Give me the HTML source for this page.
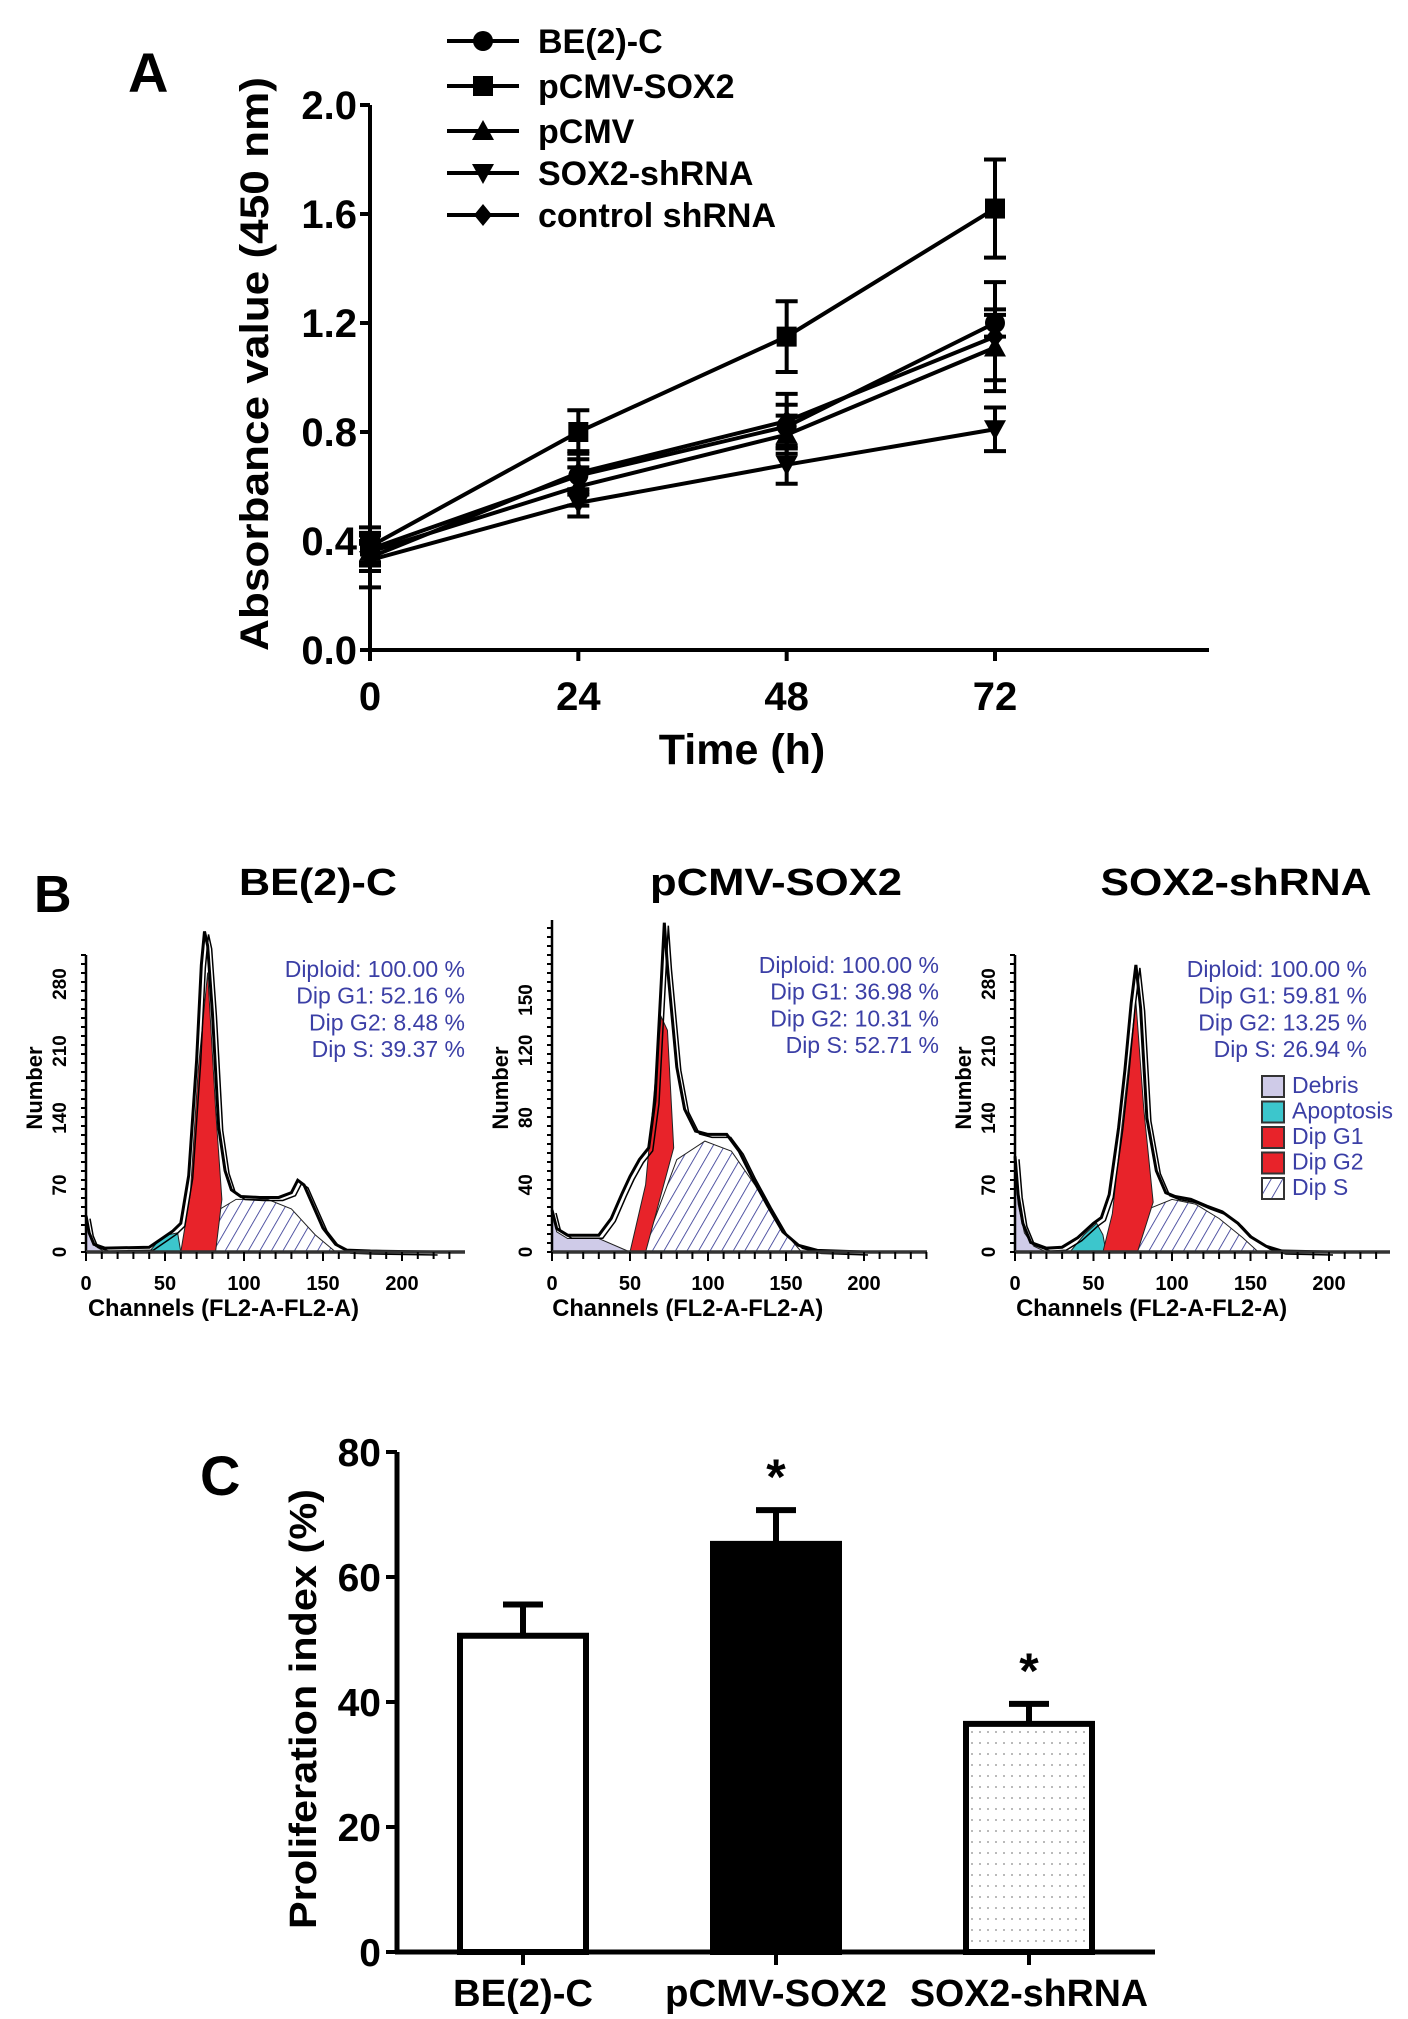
<!DOCTYPE html>
<html><head><meta charset="utf-8"><style>
html,body{margin:0;padding:0;background:#fff}
svg{display:block}
text{font-family:"Liberation Sans",sans-serif;font-weight:bold}
.narrow{font-family:"Liberation Sans Narrow","Liberation Sans",sans-serif}
.stat{font-family:"Liberation Sans Narrow","Liberation Sans",sans-serif;font-weight:normal;fill:#3b3fa6;font-size:23px}
</style></head><body>
<svg id="fig" width="1408" height="2019" viewBox="0 0 1408 2019" xmlns="http://www.w3.org/2000/svg">
<defs>
<pattern id="hatch" patternUnits="userSpaceOnUse" width="10" height="10" patternTransform="rotate(30)"><rect width="10" height="10" fill="#fff"/><line x1="0" y1="0" x2="0" y2="10" stroke="#2b2f8f" stroke-width="1.6"/></pattern>
<pattern id="dots" patternUnits="userSpaceOnUse" width="8" height="11"><rect width="8" height="11" fill="#fff"/><circle cx="4" cy="5" r="0.9" fill="#888"/></pattern>
</defs>
<text x="128" y="92" font-size="56">A</text>
<text x="34" y="912" font-size="52">B</text>
<text x="200" y="1495" font-size="56">C</text>
<g id="gA"></g><g id="gB"></g><g id="gC"></g>
</svg>
<script>
// ---------- Panel A data ----------
const aTimes=[0,24,48,72];
const aYTicks=[0,0.4,0.8,1.2,1.6,2.0];
const aSeriesNames=["BE(2)-C","pCMV-SOX2","pCMV","SOX2-shRNA","control shRNA"];
const aBE=[0.37,0.64,0.82,1.20];
const aBEerr=[0.05,0.06,0.08,0.05];
const aSOX=[0.38,0.80,1.15,1.62];
const aSOXerr=[0.07,0.08,0.13,0.18];
const aPCMV=[0.36,0.60,0.79,1.11];
const aPCMVerr=[0.04,0.07,0.07,0.12];
const aSH=[0.33,0.54,0.68,0.81];
const aSHerr=[0.10,0.05,0.07,0.08];
const aCTRL=[0.34,0.65,0.84,1.15];
const aCTRLerr=[0.05,0.08,0.10,0.20];
// ---------- Panel B data (channel, count) ----------
const bTitles=["BE(2)-C","pCMV-SOX2","SOX2-shRNA"];
const bXTicks=[0,50,100,150,200];
const b1YTicks=[0,70,140,210,280];
const b2YTicks=[0,40,80,120,150];
const b3YTicks=[0,70,140,210,280];
const b1Outline=[[0,38],[2,20],[5,8],[12,4],[40,5],[48,14],[55,22],[60,30],[65,80],[70,200],[73,300],[75,335],[77,320],[80,250],[84,130],[88,85],[92,65],[98,58],[110,57],[122,57],[130,62],[134,75],[138,70],[142,55],[150,25],[158,8],[165,2],[180,1],[220,0]];
const b1Debris=[[0,38],[2,20],[6,6],[12,0],[0,0]];
const b1Apop=[[40,0],[46,12],[52,18],[58,20],[60,0]];
const b1G1=[[60,0],[66,60],[71,190],[77,292],[82,150],[86,55],[82,0]];
const b1S=[[62,0],[80,40],[95,55],[115,55],[130,45],[145,18],[158,0]];
const b1Stats=["Diploid: 100.00 %","Dip G1: 52.16 %","Dip G2: 8.48 %","Dip S: 39.37 %"];
const b2Outline=[[0,25],[3,14],[10,10],[30,10],[38,20],[45,35],[50,45],[56,55],[62,62],[66,90],[70,160],[72,196],[74,170],[77,140],[80,110],[85,85],[92,72],[100,70],[112,70],[120,60],[128,45],[138,28],[148,12],[158,4],[170,1],[200,0]];
const b2Debris=[[0,25],[3,12],[10,8],[30,8],[50,0],[0,0]];
const b2G1=[[50,0],[60,40],[66,100],[70,140],[74,132],[78,62],[60,0]];
const b2S=[[58,0],[80,55],[98,66],[115,60],[130,40],[145,16],[160,0]];
const b2Stats=["Diploid: 100.00 %","Dip G1: 36.98 %","Dip G2: 10.31 %","Dip S: 52.71 %"];
const b3Outline=[[0,100],[2,60],[5,30],[10,10],[20,4],[30,5],[40,15],[50,30],[55,36],[60,60],[66,130],[70,190],[74,260],[77,300],[80,255],[84,140],[90,85],[96,62],[102,58],[112,55],[122,48],[132,42],[142,30],[150,16],[160,6],[170,1],[200,0]];
const b3Debris=[[0,90],[2,50],[6,20],[12,6],[20,0],[0,0]];
const b3Apop=[[35,0],[44,18],[52,30],[56,18],[58,0]];
const b3G1=[[56,0],[62,40],[70,160],[77,262],[82,150],[88,52],[78,0]];
const b3S=[[62,0],[85,45],[100,55],[115,50],[130,35],[145,15],[155,0]];
const b3Stats=["Diploid: 100.00 %","Dip G1: 59.81 %","Dip G2: 13.25 %","Dip S: 26.94 %"];
const bLegend=["Debris","Apoptosis","Dip G1","Dip G2","Dip S"];
// ---------- Panel C data ----------
const cCats=["BE(2)-C","pCMV-SOX2","SOX2-shRNA"];
const cVals=[50.6,65.3,36.5];
const cErr=[5.0,5.4,3.2];
const cSig=[false,true,true];
const cYTicks=[0,20,40,60,80];

const NS="http://www.w3.org/2000/svg";
function mk(parent,tag,attrs,txt){const e=document.createElementNS(NS,tag);for(const k in attrs)e.setAttribute(k,attrs[k]);if(txt!==undefined)e.textContent=txt;parent.appendChild(e);return e;}

// ===== Panel A =====
const gA=document.getElementById('gA');
const ax=t=>370+t*(995-370)/72;
const ay=v=>650-v*(650-105)/2.0;
let e;
e=mk(gA,'line',{x1:370,y1:ay(2.0),x2:370,y2:650,stroke:'#000','stroke-width':4});

e=mk(gA,'line',{x1:368,y1:650,x2:1209,y2:650,stroke:'#000','stroke-width':4});

aYTicks.forEach(v=>{
  e=mk(gA,'line',{x1:360,y1:ay(v),x2:370,y2:ay(v),stroke:'#000','stroke-width':4});
  
  e=mk(gA,'text',{x:357,y:ay(v)+14,'font-size':40,'text-anchor':'end',class:'narrow'},v.toFixed(1));
  
});
aTimes.forEach(t=>{
  e=mk(gA,'line',{x1:ax(t),y1:650,x2:ax(t),y2:661,stroke:'#000','stroke-width':4});
  
  e=mk(gA,'text',{x:ax(t),y:710,'font-size':40,'text-anchor':'middle',class:'narrow'},String(t));
  
});
e=mk(gA,'text',{x:742,y:764,'font-size':43,'text-anchor':'middle',class:'narrow'},'Time (h)');

e=mk(gA,'text',{x:0,y:0,'font-size':40,'text-anchor':'middle',textLength:574,lengthAdjust:'spacingAndGlyphs',transform:'translate(268,364) rotate(-90)'},'Absorbance value (450 nm)');


function marker(g,type,cx,cy){
  let m;
  if(type==0) m=mk(g,'circle',{cx:cx,cy:cy,r:10,fill:'#000'});
  else if(type==1) m=mk(g,'rect',{x:cx-10,y:cy-10,width:20,height:20,fill:'#000'});
  else if(type==2) m=mk(g,'polygon',{points:`${cx},${cy-11} ${cx-11},${cy+9} ${cx+11},${cy+9}`,fill:'#000'});
  else if(type==3) m=mk(g,'polygon',{points:`${cx},${cy+11} ${cx-11},${cy-9} ${cx+11},${cy-9}`,fill:'#000'});
  else m=mk(g,'polygon',{points:`${cx},${cy-11} ${cx+9},${cy} ${cx},${cy+11} ${cx-9},${cy}`,fill:'#000'});
  return m;
}
const aData=[aBE,aSOX,aPCMV,aSH,aCTRL];
const aErrs=[aBEerr,aSOXerr,aPCMVerr,aSHerr,aCTRLerr];
aData.forEach((vals,si)=>{
  const g=mk(gA,'g',{});
  
  
  e=mk(g,'polyline',{points:vals.map((v,i)=>ax(aTimes[i])+','+ay(v)).join(' '),fill:'none',stroke:'#000','stroke-width':4});
  
  vals.forEach((v,i)=>{
    const x=ax(aTimes[i]),er=aErrs[si][i];
    e=mk(g,'path',{d:`M${x},${ay(v-er)}V${ay(v+er)}M${x-11},${ay(v+er)}H${x+11}M${x-11},${ay(v-er)}H${x+11}`,stroke:'#000','stroke-width':4,fill:'none'});
    
    e=marker(g,si,x,ay(v));
    
  });
});
const legY=[41,86,131,173,215];
const legW=[117,218,98,219,264];
aSeriesNames.forEach((n,i)=>{
  const g=mk(gA,'g',{});
  
  mk(g,'line',{x1:447,y1:legY[i],x2:519,y2:legY[i],stroke:'#000','stroke-width':4});
  marker(g,i,483,legY[i]);
  e=mk(g,'text',{x:538,y:legY[i]+12,'font-size':34},n);
  
});

// ===== Panel B =====
const gB=document.getElementById('gB');
const panels=[
 {x0:86,xs:1.58,yk:0.957,ticks:b1YTicks,out:b1Outline,deb:b1Debris,apo:b1Apop,g1:b1G1,s:b1S,stats:b1Stats,sx:465,top:955,end:465,tx:318},
 {x0:552,xs:1.56,yk:1.68,ticks:b2YTicks,out:b2Outline,deb:b2Debris,apo:null,g1:b2G1,s:b2S,stats:b2Stats,sx:939,top:920,end:927,tx:776},
 {x0:1015,xs:1.57,yk:0.957,ticks:b3YTicks,out:b3Outline,deb:b3Debris,apo:b3Apop,g1:b3G1,s:b3S,stats:b3Stats,sx:1367,top:955,end:1390,tx:1236}
];
const bBase=1252;
const titleW=[158,252,271];
panels.forEach((p,pi)=>{
  const g=mk(gB,'g',{});
  
  const X=c=>p.x0+c*p.xs, Y=n=>bBase-n*p.yk;
  const poly=(arr,fill,name)=>{const q=mk(g,'polygon',{points:arr.map(a=>X(a[0])+','+Y(a[1])).join(' '),fill:fill,stroke:'#222','stroke-width':1});};
  poly(p.deb,'#cfcbe8','b-debris-area');
  if(p.apo) poly(p.apo,'#3cc6cc','b-apoptosis-area');
  poly(p.s,'url(#hatch)','b-s-phase-area');
  poly(p.g1,'#e8232a','b-g1-area');
  e=mk(g,'polyline',{points:p.out.map(a=>X(a[0])+','+Y(a[1])).join(' '),fill:'none',stroke:'#000','stroke-width':3});
  
  e=mk(g,'polyline',{points:p.out.map(a=>(X(a[0])+4)+','+(Y(a[1])+3)).join(' '),fill:'none',stroke:'#000','stroke-width':1.5});
  
  e=mk(g,'line',{x1:p.x0,y1:p.top,x2:p.x0,y2:bBase,stroke:'#000','stroke-width':2.5});
  
  e=mk(g,'line',{x1:p.x0,y1:bBase,x2:p.end,y2:bBase,stroke:'#333','stroke-width':3.5});
  
  for(let c=0;X(c)<=p.end;c+=10){mk(g,'line',{x1:X(c),y1:bBase,x2:X(c),y2:bBase+(c%50==0?9:7),stroke:'#000','stroke-width':2});}
  for(let y=bBase;y>=p.top;y-=9){mk(g,'line',{x1:p.x0-5,y1:y,x2:p.x0,y2:y,stroke:'#000','stroke-width':2});}
  bXTicks.forEach(c=>{e=mk(g,'text',{x:X(c),y:1290,'font-size':20,'text-anchor':'middle',class:'narrow'},String(c));});
  p.ticks.forEach(n=>{e=mk(g,'text',{x:0,y:0,'font-size':19,'text-anchor':'middle',transform:`translate(${p.x0-20},${Y(n)}) rotate(-90)`},String(n));});
  e=mk(g,'text',{x:0,y:0,'font-size':22,'text-anchor':'middle',transform:`translate(${p.x0-44},${1088}) rotate(-90)`},'Number');
  
  e=mk(g,'text',{x:X(87),y:1316,'font-size':24,'text-anchor':'middle',textLength:271,lengthAdjust:'spacingAndGlyphs'},'Channels (FL2-A-FL2-A)');
  
  e=mk(g,'text',{x:p.tx,y:895,'font-size':38,'text-anchor':'middle',textLength:titleW[pi],lengthAdjust:'spacingAndGlyphs'},bTitles[pi]);
  
  p.stats.forEach((s,i)=>{e=mk(g,'text',{x:p.sx,y:(pi==1?973:977)+i*26.7,'text-anchor':'end',class:'stat'},s);});
});
const legFill=['#cfcbe8','#3cc6cc','#e8232a','#e8232a','url(#hatch)'];
bLegend.forEach((n,i)=>{
  const g=mk(gB,'g',{});
  
  const y=1076+i*25.5;
  mk(g,'rect',{x:1262,y:y,width:22,height:21,fill:legFill[i],stroke:'#333','stroke-width':2});
  e=mk(g,'text',{x:1292,y:y+17,class:'stat','font-size':20},n);
  
});

// ===== Panel C =====
const gC=document.getElementById('gC');
const cy=v=>1952-v*(1952-1452)/80;
const cX=[523,776,1029];
const cW=126;
const cFill=['#fff','#000','url(#dots)'];
e=mk(gC,'line',{x1:397,y1:cy(80),x2:397,y2:1952,stroke:'#000','stroke-width':5});

e=mk(gC,'line',{x1:395,y1:1952,x2:1155,y2:1952,stroke:'#000','stroke-width':5});

cYTicks.forEach(v=>{
  e=mk(gC,'line',{x1:386,y1:cy(v),x2:397,y2:cy(v),stroke:'#000','stroke-width':4});
  
  e=mk(gC,'text',{x:381,y:cy(v)+14,'font-size':39,'text-anchor':'end',class:'narrow'},String(v));
  
});
e=mk(gC,'text',{x:0,y:0,'font-size':38,'text-anchor':'middle',textLength:440,lengthAdjust:'spacingAndGlyphs',transform:'translate(316,1709) rotate(-90)'},'Proliferation index (%)');

const cLabW=[140,222,238];
cCats.forEach((c,i)=>{
  const x=cX[i];
  e=mk(gC,'line',{x1:x,y1:1952,x2:x,y2:1965,stroke:'#000','stroke-width':4});
  
  e=mk(gC,'text',{x:x,y:2006,'font-size':38,'text-anchor':'middle',textLength:cLabW[i],lengthAdjust:'spacingAndGlyphs'},c);
  
  e=mk(gC,'path',{d:`M${x},${cy(cVals[i])}V${cy(cVals[i]+cErr[i])}M${x-20},${cy(cVals[i]+cErr[i])}H${x+20}`,stroke:'#000','stroke-width':6,fill:'none'});
  
  e=mk(gC,'rect',{x:x-cW/2,y:cy(cVals[i]),width:cW,height:1952-cy(cVals[i]),fill:cFill[i],stroke:'#000','stroke-width':6});
  
  if(cSig[i]){
    e=mk(gC,'text',{x:x,y:cy(cVals[i]+cErr[i])-16,'font-size':50,'text-anchor':'middle'},'*');
    
  }
});
</script>
</body></html>
